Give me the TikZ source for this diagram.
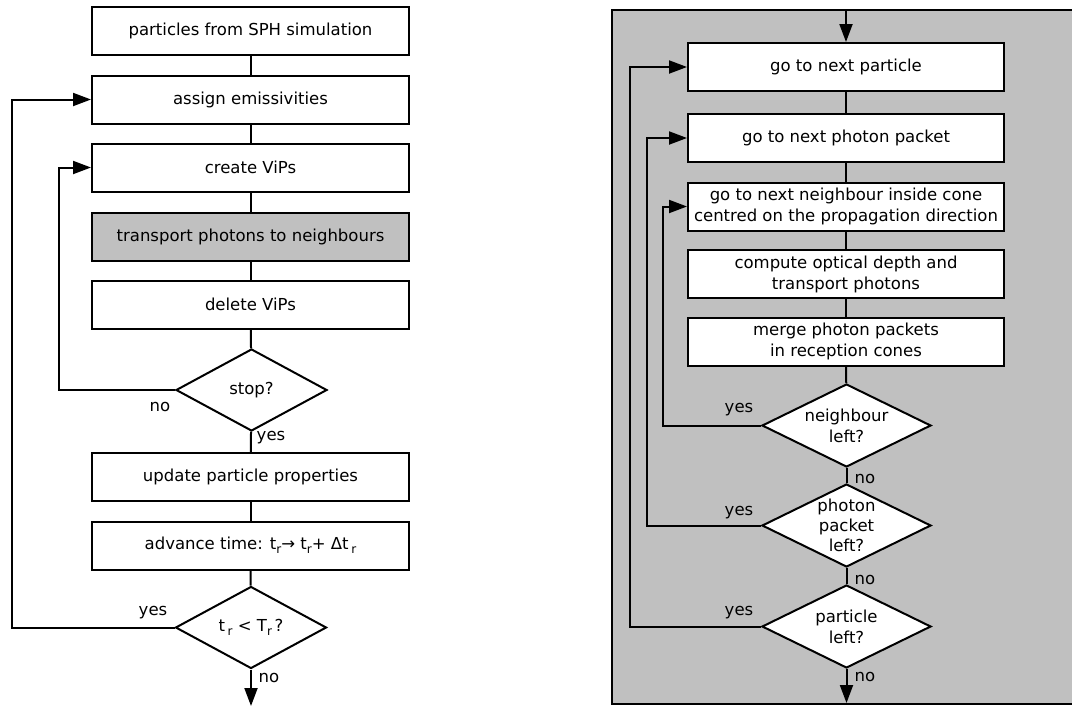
\documentclass[tikz,border=0pt]{standalone}
\usepackage{fontspec}
\setmainfont{DejaVu Sans}
\usetikzlibrary{shapes.geometric,arrows.meta}
\definecolor{panelgray}{RGB}{192,192,192}
\newcommand{\subr}{\raisebox{-0.45ex}{\fontsize{12}{12}\selectfont r}}
\begin{document}
\begin{tikzpicture}[x=1pt,y=-1pt,
 every node/.style={font=\fontsize{16.5}{21}\selectfont},
 box/.style={draw,line width=2pt,fill=white,minimum width=317pt,minimum height=48pt,inner sep=0pt,align=center},
 dec/.style={draw,line width=2pt,fill=white,diamond,inner sep=0pt,minimum width=151pt,minimum height=82pt},
 dtext/.style={align=center,inner sep=0pt},
 conn/.style={line width=2pt},
 arr/.style={line width=2pt,-{Triangle[length=18pt,width=13pt]}},
 lbl/.style={inner sep=0pt}]
\useasboundingbox (0,0) rectangle (1072,707);
% right panel background
\draw[line width=2pt,fill=panelgray] (612,10) rectangle (1090,704);
% ---------- left flowchart ----------
\node[box] (l1) at (250.5,31) {particles from SPH simulation};
\node[box] (l2) at (250.5,99.5) {assign emissivities};
\node[box] (l3) at (250.5,167.5) {create ViPs};
\node[box,fill=panelgray] (l4) at (250.5,237) {transport photons to neighbours};
\node[box] (l5) at (250.5,304.5) {delete ViPs};
\node[dec] (l6) at (251.5,390) {};
\node[dtext] at (l6) {stop?};
\node[box] (l7) at (250.5,477) {update particle properties};
\node[box] (l8) at (250.5,545.5) {advance time: t\subr→ t\subr+ Δt\,\subr};
\node[dec] (l9) at (251,627.5) {};
\node[dtext] at (l9) {t\,\subr\ < T\subr\,?};
\coordinate (lend) at (251,706);
\draw[conn] (l1) -- (l2);
\draw[conn] (l2) -- (l3);
\draw[conn] (l3) -- (l4);
\draw[conn] (l4) -- (l5);
\draw[conn] (l5) -- (l6);
\draw[conn] (l6) -- (l7);
\draw[conn] (l7) -- (l8);
\draw[conn] (l8) -- (l9);
\draw[arr] (l9) -- (lend);
\draw[arr] (l6.west) -- ++(-116,0) |- (l3.west);
\draw[arr] (l9.west) -- ++(-163,0) |- (l2.west);
\node[lbl] at (160,407) {no};
\node[lbl] at (271,438) {yes};
\node[lbl] at (153,613) {yes};
\node[lbl] at (269,678) {no};
% ---------- right flowchart ----------
\coordinate (rtop) at (846,10);
\node[box,minimum width=316pt] (r1) at (846,67) {go to next particle};
\node[box,minimum width=316pt] (r2) at (846,138) {go to next photon packet};
\node[box,minimum width=316pt] (r3) at (846,206.5) {go to next neighbour inside cone\\centred on the propagation direction};
\node[box,minimum width=316pt] (r4) at (846,274) {compute optical depth and\\transport photons};
\node[box,minimum width=316pt] (r5) at (846,341.5) {merge photon packets\\in reception cones};
\node[dec,minimum width=169pt,minimum height=83pt] (r6) at (846.5,425.5) {};
\node[dtext] at (r6) {neighbour\\left?};
\node[dec,minimum width=169pt,minimum height=83pt] (r7) at (846.5,525.5) {};
\node[dtext,font=\fontsize{16.5}{20}\selectfont] at (r7) {photon\\packet\\left?};
\node[dec,minimum width=169pt,minimum height=83pt] (r8) at (846.5,626.5) {};
\node[dtext] at (r8) {particle\\left?};
\coordinate (rend) at (846.5,703);
\draw[arr] (rtop) -- (r1);
\draw[conn] (r1) -- (r2);
\draw[conn] (r2) -- (r3);
\draw[conn] (r3) -- (r4);
\draw[conn] (r4) -- (r5);
\draw[conn] (r5) -- (r6);
\draw[conn] (r6) -- (r7);
\draw[conn] (r7) -- (r8);
\draw[arr] (r8) -- (rend);
\draw[arr] (r6.west) -- ++(-98,0) |- (r3.west);
\draw[arr] (r7.west) -- ++(-114,0) |- (r2.west);
\draw[arr] (r8.west) -- ++(-131,0) |- (r1.west);
\node[lbl] at (739,410) {yes};
\node[lbl] at (739,513) {yes};
\node[lbl] at (739,613) {yes};
\node[lbl] at (865,479) {no};
\node[lbl] at (865,580) {no};
\node[lbl] at (865,677) {no};
\end{tikzpicture}
\end{document}
